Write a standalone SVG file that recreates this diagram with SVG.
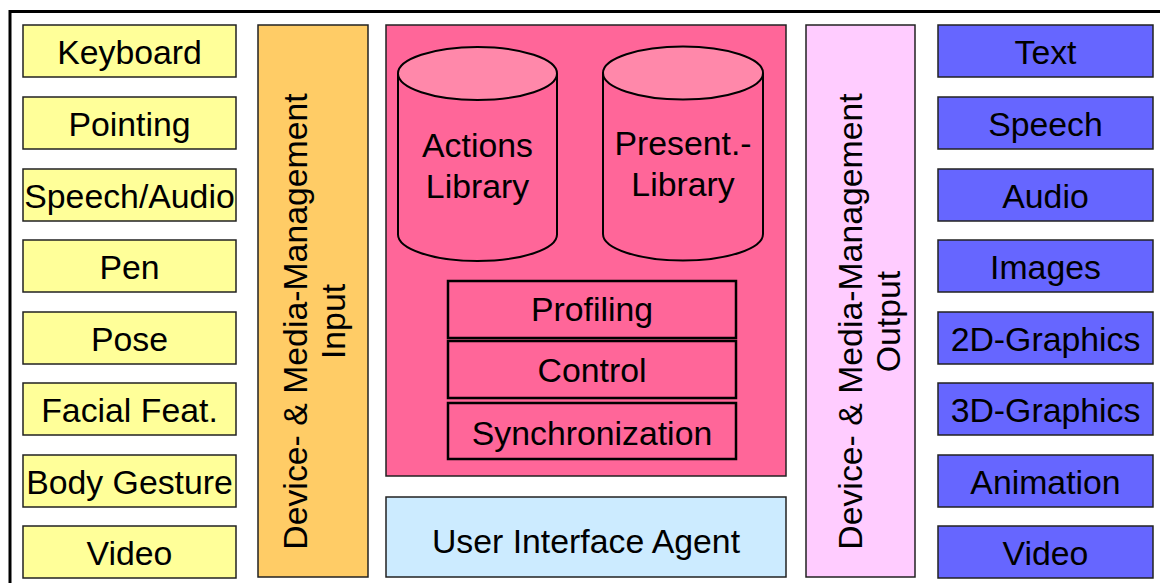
<svg xmlns="http://www.w3.org/2000/svg" width="1160" height="583" viewBox="0 0 1160 583">
<style>
text{font-family:"Liberation Sans",Arial,sans-serif;font-size:33.8px;fill:#000;text-anchor:middle}
.box{stroke:#222;stroke-width:1.5}
.in{fill:#FFFF99}
.out{fill:#6666FF}
.sub{fill:#FF6699;stroke:#000;stroke-width:2.5}
.cyl{fill:#FF6699;stroke:#000;stroke-width:2}
.cyltop{fill:#FF88AA;stroke:#000;stroke-width:2}
</style>
<rect x="0" y="0" width="1160" height="583" fill="#fff"/>
<path d="M10 600 V11.5 H1162" fill="none" stroke="#000" stroke-width="3"/>

<g id="input-devices">
<g id="in-keyboard"><rect class="box in" x="23" y="25" width="213" height="52"/><text x="129.5" y="64">Keyboard</text></g>
<g id="in-pointing"><rect class="box in" x="23" y="97" width="213" height="52"/><text x="129.5" y="136">Pointing</text></g>
<g id="in-speech"><rect class="box in" x="23" y="169" width="213" height="52"/><text x="129.5" y="208">Speech/Audio</text></g>
<g id="in-pen"><rect class="box in" x="23" y="240" width="213" height="52"/><text x="129.5" y="279">Pen</text></g>
<g id="in-pose"><rect class="box in" x="23" y="312" width="213" height="52"/><text x="129.5" y="351">Pose</text></g>
<g id="in-facial"><rect class="box in" x="23" y="383" width="213" height="52"/><text x="129.5" y="422">Facial Feat.</text></g>
<g id="in-body"><rect class="box in" x="23" y="455" width="213" height="52"/><text x="129.5" y="494">Body Gesture</text></g>
<g id="in-video"><rect class="box in" x="23" y="526" width="213" height="52"/><text x="129.5" y="565">Video</text></g>
</g>

<g id="input-management">
<rect class="box" x="258" y="25" width="110" height="552" fill="#FFCC66"/>
<text transform="translate(307 321.5) rotate(-90)">Device- &amp; Media-Management</text>
<text transform="translate(345 321.5) rotate(-90)">Input</text>
</g>

<g id="core">
<rect class="box" x="386" y="25" width="400" height="451" fill="#FF6699"/>
<g id="actions-library">
<path class="cyl" d="M398 73.5 V234.5 A79.5 26.5 0 0 0 557 234.5 V73.5"/>
<ellipse class="cyltop" cx="477.5" cy="73.5" rx="79.5" ry="26.5"/>
<text x="477.5" y="157">Actions</text>
<text x="477.5" y="198">Library</text>
</g>
<g id="presentation-library">
<path class="cyl" d="M603 73 V234 A80 26.5 0 0 0 763 234 V73"/>
<ellipse class="cyltop" cx="683" cy="73" rx="80" ry="26.5"/>
<text x="683" y="155">Present.-</text>
<text x="683" y="196">Library</text>
</g>
<g id="profiling"><rect class="sub" x="448" y="281" width="288" height="57"/><text x="592" y="321">Profiling</text></g>
<g id="control"><rect class="sub" x="448" y="341" width="288" height="57"/><text x="592" y="382">Control</text></g>
<g id="synchronization"><rect class="sub" x="448" y="403" width="288" height="56"/><text x="592" y="445">Synchronization</text></g>
</g>

<g id="user-interface-agent">
<rect class="box" x="386" y="497" width="400" height="80" fill="#CCEBFF"/>
<text x="586" y="553">User Interface Agent</text>
</g>

<g id="output-management">
<rect class="box" x="806" y="25" width="109" height="552" fill="#FFCCFF"/>
<text transform="translate(862 321.5) rotate(-90)">Device- &amp; Media-Management</text>
<text transform="translate(900 321.5) rotate(-90)">Output</text>
</g>

<g id="output-media">
<g id="out-text"><rect class="box out" x="938" y="25" width="215" height="52"/><text x="1045.5" y="64">Text</text></g>
<g id="out-speech"><rect class="box out" x="938" y="97" width="215" height="52"/><text x="1045.5" y="136">Speech</text></g>
<g id="out-audio"><rect class="box out" x="938" y="169" width="215" height="52"/><text x="1045.5" y="208">Audio</text></g>
<g id="out-images"><rect class="box out" x="938" y="240" width="215" height="52"/><text x="1045.5" y="279">Images</text></g>
<g id="out-2d"><rect class="box out" x="938" y="312" width="215" height="52"/><text x="1045.5" y="351">2D-Graphics</text></g>
<g id="out-3d"><rect class="box out" x="938" y="383" width="215" height="52"/><text x="1045.5" y="422">3D-Graphics</text></g>
<g id="out-animation"><rect class="box out" x="938" y="455" width="215" height="52"/><text x="1045.5" y="494">Animation</text></g>
<g id="out-video"><rect class="box out" x="938" y="526" width="215" height="52"/><text x="1045.5" y="565">Video</text></g>
</g>

<g id="connectors"></g>
</svg>
